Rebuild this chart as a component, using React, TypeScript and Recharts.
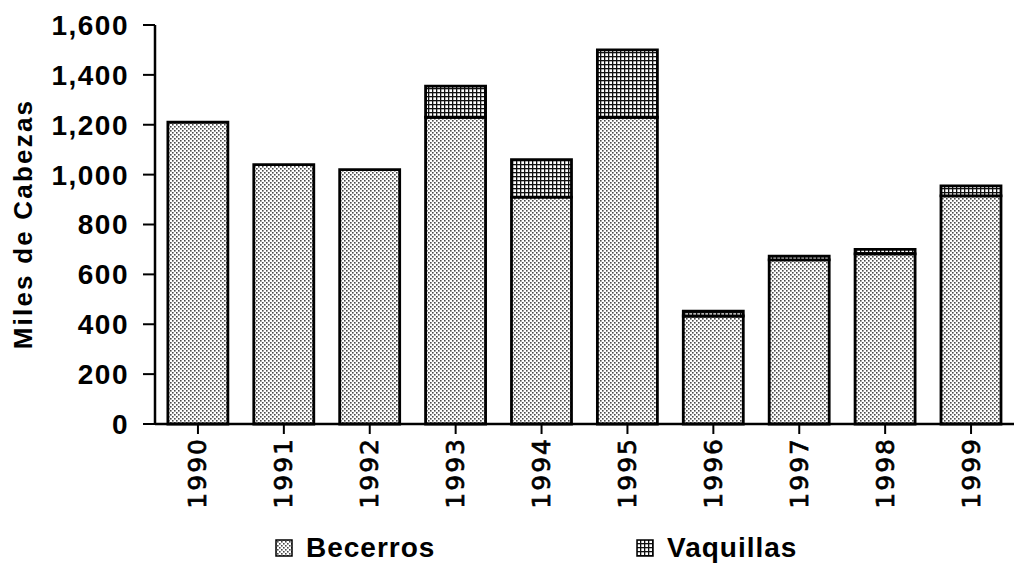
import { BarChart, Bar, XAxis, YAxis, Legend } from 'recharts'

const years     = ['1990', '1991', '1992', '1993', '1994', '1995', '1996', '1997', '1998', '1999']
const becerros  = [1210, 1040, 1020, 1230, 910, 1230, 433, 658, 682, 915]
const vaquillas = [0, 0, 0, 125, 150, 270, 20, 15, 18, 40]
const yTicks    = [0, 200, 400, 600, 800, 1000, 1200, 1400, 1600]

const data = years.map((year, i) => ({
  year,
  becerros:  becerros[i],
  vaquillas: vaquillas[i],
}))

const ARIAL = "'Liberation Sans', Arial, sans-serif"
const VERDANA = "'DejaVu Sans', Verdana, sans-serif"

function Patterns({ prefix }: { prefix: string }) {
  return (
    <defs>
      <pattern id={`${prefix}-dots`} width="4" height="4" patternUnits="userSpaceOnUse">
        <rect width="4" height="4" fill="#ffffff" />
        <rect x="0" y="0" width="1.6" height="1.6" fill="#4a4a4a" />
        <rect x="2" y="2" width="1.6" height="1.6" fill="#4a4a4a" />
      </pattern>
      <pattern id={`${prefix}-grid`} width="4" height="4" patternUnits="userSpaceOnUse">
        <rect width="4" height="4" fill="#ffffff" />
        <rect x="0" y="0" width="4" height="1.3" fill="#111" />
        <rect x="0" y="0" width="1.3" height="4" fill="#111" />
      </pattern>
    </defs>
  )
}

function YearTick({ x, y, payload }: any) {
  return (
    <text
      x={x} y={y}
      transform={`rotate(-90, ${x}, ${y})`}
      textAnchor="end"
      dominantBaseline="central"
      fontFamily={VERDANA}
      fontSize={25}
      letterSpacing={2}
      stroke="#000"
      strokeWidth={0.7}
      fill="#000"
    >
      {payload.value}
    </text>
  )
}

function YLabel() {
  return (
    <text
      x={23} y={224}
      transform="rotate(-90, 23, 224)"
      textAnchor="middle"
      dominantBaseline="central"
      fontFamily={ARIAL}
      fontWeight="bold"
      fontSize={26}
      letterSpacing={2.2}
      fill="#000"
    >
      Miles de Cabezas
    </text>
  )
}

function LegendBox() {
  const items = [
    { label: 'Becerros',  fill: 'lg-dots', left: 275 },
    { label: 'Vaquillas', fill: 'lg-grid', left: 636 },
  ]
  return (
    <div style={{ position: 'relative', height: 40 }}>
      {items.map((it) => (
        <div key={it.label} style={{
          position: 'absolute', left: it.left, top: 14,
          display: 'flex', alignItems: 'center',
        }}>
          <svg width={18} height={18} style={{ display: 'block' }}>
            <Patterns prefix="lg" />
            <rect x={1} y={1} width={16} height={16} fill={`url(#${it.fill})`} stroke="#000" strokeWidth={1.5} />
          </svg>
          <span style={{
            marginLeft: 13, fontFamily: ARIAL, fontWeight: 'bold',
            fontSize: 28, letterSpacing: 1, lineHeight: '22px', color: '#000',
          }}>
            {it.label}
          </span>
        </div>
      ))}
    </div>
  )
}

export default function App() {
  return (
    <div style={{ position: 'absolute', left: 0, top: 0, width: 1014, height: 563, background: '#fff' }}>
      <BarChart
        width={1014}
        height={563}
        data={data}
        margin={{ top: 25, right: 0, bottom: 0, left: 0 }}
        barCategoryGap="15%"
      >
        <Patterns prefix="ch" />
        <XAxis
          dataKey="year"
          height={99}
          interval={0}
          axisLine={{ stroke: '#000', strokeWidth: 2.5 }}
          tickLine={{ stroke: '#000', strokeWidth: 2 }}
          tickSize={10}
          tickMargin={3}
          tick={<YearTick />}
        />
        <YAxis
          width={155}
          domain={[0, 1600]}
          ticks={yTicks}
          interval={0}
          axisLine={{ stroke: '#000', strokeWidth: 2.5 }}
          tickLine={{ stroke: '#000', strokeWidth: 2 }}
          tickSize={12}
          tickMargin={14}
          tickFormatter={(v: number) => v.toLocaleString('en-US')}
          tick={{ fill: '#000', fontFamily: ARIAL, fontWeight: 'bold', fontSize: 28, letterSpacing: 1.5 }}
          label={<YLabel />}
        />
        <Legend verticalAlign="bottom" height={40} content={<LegendBox />} />
        <Bar dataKey="becerros" stackId="a" fill="url(#ch-dots)" stroke="#000" strokeWidth={2.8} isAnimationActive={false} />
        <Bar dataKey="vaquillas" stackId="a" fill="url(#ch-grid)" stroke="#000" strokeWidth={2.8} isAnimationActive={false} />
      </BarChart>
    </div>
  )
}
